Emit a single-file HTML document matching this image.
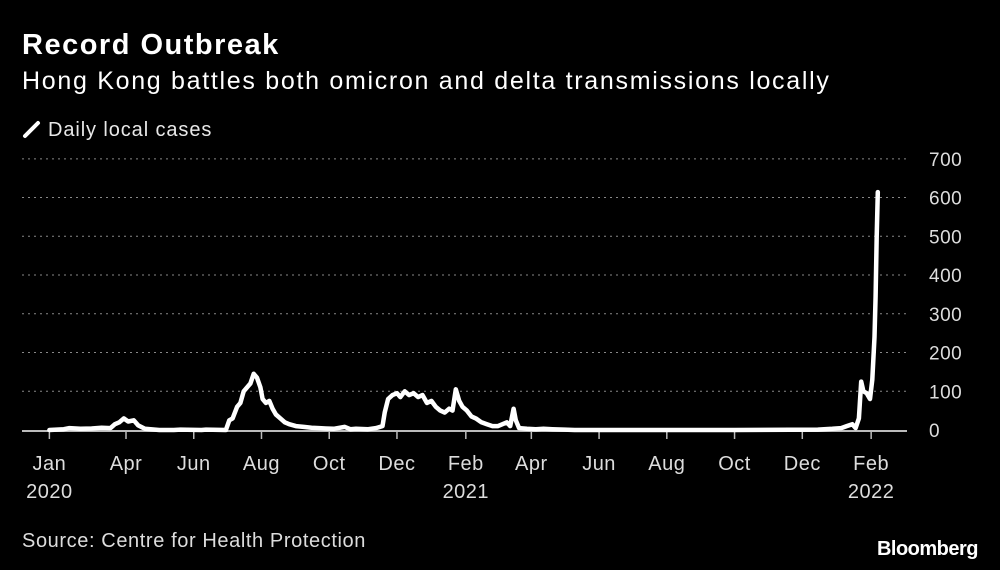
<!DOCTYPE html>
<html><head><meta charset="utf-8">
<style>
body{margin:0;background:#000;width:1000px;height:570px;overflow:hidden;font-family:"Liberation Sans",sans-serif;color:#fff}
.t{position:absolute;left:22px;top:29px;font-size:29px;font-weight:bold;letter-spacing:1.5px}
.s{position:absolute;left:22px;top:67px;font-size:25px;letter-spacing:1.7px;color:#fff}
.l{position:absolute;left:22px;top:116px;font-size:20px;letter-spacing:0.9px;color:#e8e8e8}
.src{position:absolute;left:22px;top:530px;font-size:20px;letter-spacing:0.6px;color:#ddd}
.bb{position:absolute;right:22px;top:538px;font-size:20px;font-weight:bold;letter-spacing:-0.5px}
svg{position:absolute;left:0;top:0}
</style></head><body>
<div class="t">Record Outbreak</div>
<div class="s">Hong Kong battles both omicron and delta transmissions locally</div>
<div class="l"><svg width="20" height="20" style="position:relative;top:3px;margin-right:6px;left:0"><line x1="3" y1="17" x2="16" y2="4" stroke="#fff" stroke-width="4" stroke-linecap="round"/></svg>Daily local cases</div>
<div class="src">Source: Centre for Health Protection</div>
<div class="bb">Bloomberg</div>
<svg id="c" width="1000" height="570"></svg>
<script>
const dates=["2020-01-23","2020-02-05","2020-02-10","2020-02-20","2020-03-01","2020-03-10","2020-03-18","2020-03-22","2020-03-26","2020-03-30","2020-04-03","2020-04-08","2020-04-12","2020-04-18","2020-05-01","2020-05-14","2020-05-20","2020-06-08","2020-06-12","2020-06-30","2020-07-03","2020-07-06","2020-07-10","2020-07-13","2020-07-16","2020-07-19","2020-07-22","2020-07-25","2020-07-28","2020-07-31","2020-08-02","2020-08-05","2020-08-08","2020-08-11","2020-08-14","2020-08-18","2020-08-22","2020-08-26","2020-09-01","2020-09-08","2020-09-15","2020-09-22","2020-09-28","2020-10-05","2020-10-15","2020-10-20","2020-10-25","2020-11-05","2020-11-12","2020-11-18","2020-11-20","2020-11-23","2020-11-27","2020-12-01","2020-12-04","2020-12-08","2020-12-12","2020-12-16","2020-12-20","2020-12-24","2020-12-28","2021-01-01","2021-01-05","2021-01-09","2021-01-13","2021-01-17","2021-01-20","2021-01-23","2021-01-26","2021-01-29","2021-02-02","2021-02-06","2021-02-10","2021-02-15","2021-02-20","2021-02-25","2021-03-02","2021-03-06","2021-03-10","2021-03-13","2021-03-16","2021-03-18","2021-03-21","2021-03-28","2021-04-05","2021-04-12","2021-04-20","2021-05-01","2021-05-10","2021-05-20","2021-06-10","2021-08-01","2021-10-01","2021-12-15","2021-12-28","2022-01-05","2022-01-10","2022-01-15","2022-01-18","2022-01-21","2022-01-23","2022-01-25","2022-01-28","2022-01-31","2022-02-02","2022-02-04","2022-02-05","2022-02-06","2022-02-07"];
const cases=[0,2,5,3,4,6,5,15,20,30,22,25,12,3,0,0,1,0,1,0,25,30,60,70,100,110,120,145,135,110,80,70,75,55,40,30,20,15,10,8,6,5,4,3,8,2,3,2,5,10,45,80,90,95,85,100,90,95,85,90,70,75,60,50,45,55,50,105,75,60,50,35,30,20,15,10,10,15,20,10,55,25,5,3,2,3,2,1,0,0,0,0,0,1,3,5,10,15,5,30,125,100,95,80,130,240,345,500,614];
const yTicks=[0,100,200,300,400,500,600,700];
const xTicks=[["2020-01-23","Jan","2020"],["2020-04-01","Apr",""],["2020-06-01","Jun",""],["2020-08-01","Aug",""],["2020-10-01","Oct",""],["2020-12-01","Dec",""],["2021-02-01","Feb","2021"],["2021-04-01","Apr",""],["2021-06-01","Jun",""],["2021-08-01","Aug",""],["2021-10-01","Oct",""],["2021-12-01","Dec",""],["2022-02-01","Feb","2022"]];
const NS="http://www.w3.org/2000/svg",svg=document.getElementById('c');
const base=Date.parse("2020-04-01");
function xs(d){return 126+(Date.parse(d)-base)/864e5*1.1105;}
function ys(v){return 430-v*0.3874;}
function mk(t,a){const e=document.createElementNS(NS,t);for(const k in a)e.setAttribute(k,a[k]);svg.appendChild(e);return e;}
yTicks.forEach(v=>{
  if(v>0){const g=mk('line',{x1:22,x2:907,y1:ys(v),y2:ys(v),stroke:'#888','stroke-width':1,'stroke-dasharray':'2,4'});
  
  }
  const t=mk('text',{x:929,y:ys(v)+7,'font-size':19,'letter-spacing':0.5,fill:'#ddd','font-family':'Liberation Sans, sans-serif'});
  t.textContent=v;
  
  
});
const ax=mk('line',{x1:22,x2:907,y1:431,y2:431,stroke:'#bbb','stroke-width':2});


xTicks.forEach(([d,m,y])=>{
  const x=xs(d);
  const tk=mk('line',{x1:x,x2:x,y1:431,y2:439,stroke:'#bbb','stroke-width':1.5});
  
  
  const t=mk('text',{x:x,y:470,'font-size':20,'letter-spacing':0.5,fill:'#ddd','text-anchor':'middle','font-family':'Liberation Sans, sans-serif'});
  t.textContent=m;
  
  
  if(y){const t2=mk('text',{x:x,y:498,'font-size':20,'letter-spacing':0.5,fill:'#ddd','text-anchor':'middle','font-family':'Liberation Sans, sans-serif'});
  t2.textContent=y;
  
  }
});
const p=mk('polyline',{points:dates.map((d,i)=>xs(d).toFixed(1)+','+ys(cases[i]).toFixed(1)).join(' '),fill:'none',stroke:'#fff','stroke-width':4.5,'stroke-linejoin':'round','stroke-linecap':'round'});


</script>
</body></html>
